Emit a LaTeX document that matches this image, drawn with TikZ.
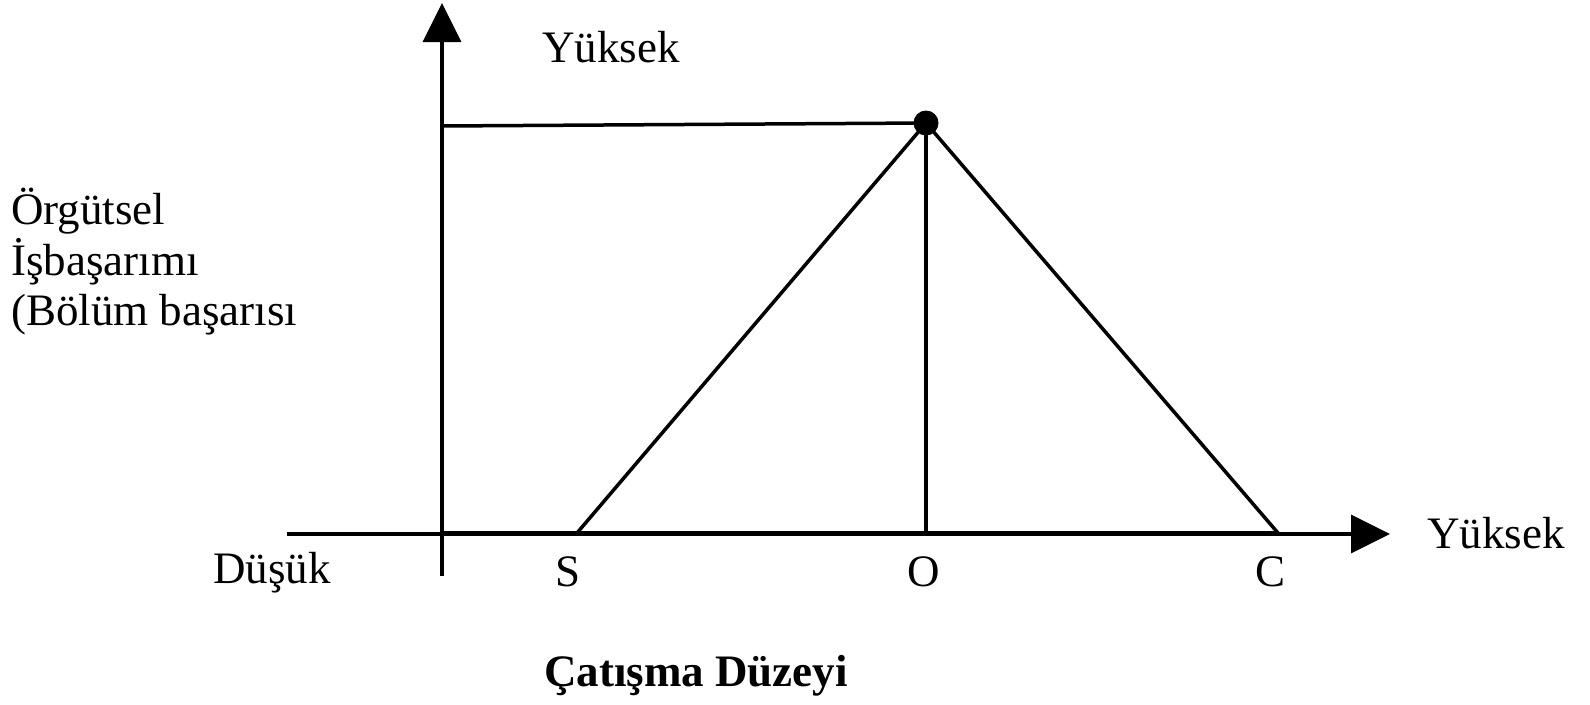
\documentclass[tikz,border=0pt]{standalone}
\usepackage{fontspec}
\setmainfont{Liberation Serif}
\usetikzlibrary{arrows.meta}
\begin{document}
\begin{tikzpicture}[x=1pt,y=-1pt,
  axis/.style={line width=3.5pt,-{Triangle[length=39pt,width=38pt]}},
  ln/.style={line width=3.5pt},
  lbl/.style={inner sep=0pt,anchor=base,font=\fontsize{45}{50}\selectfont},
  lblw/.style={inner sep=0pt,anchor=base west,font=\fontsize{45}{50}\selectfont}]
\useasboundingbox (0,0) rectangle (1590,704);
\coordinate (orig) at (442,534);
\coordinate (ytop) at (442,3);
\coordinate (ybot) at (442,576);
\coordinate (xstart) at (287,534);
\coordinate (xend) at (1390,534);
\coordinate (ymark) at (442,126);
\coordinate (peak) at (926,123);
\coordinate (S) at (577,533);
\coordinate (O) at (926,533);
\coordinate (C) at (1278,533);
\coordinate (base0) at (442,533);
% axes
\draw[axis] (ybot) -- (ytop);
\draw[axis] (xstart) -- (xend);
\draw[ln] (base0) -- (C);
% lines
\draw[ln] (ymark) -- (peak);
\draw[ln,line join=round] (S) -- (peak) -- (C);
\draw[ln] (peak) -- (O);
\fill (peak) circle (12.5pt);
% labels
\node[lblw] (ytxt) at (542,62) {Yüksek};
\node[lblw] (xtxt) at (1427,548) {Yüksek};
\node[lblw] (low) at (213,583) {Düşük};
\node[lbl] (Slbl) at (568,586) {S};
\node[lbl] (Olbl) at (924,586) {O};
\node[lbl] (Clbl) at (1270,586) {C};
\node[lblw] (l1) at (11,224) {Örgütsel};
\node[lblw] (l2) at (11,275) {İşbaşarımı};
\node[lblw] (l3) at (11,325) {(Bölüm başarısı};
\node[lblw,font=\fontsize{45}{50}\selectfont\bfseries] (title) at (544,686) {Çatışma Düzeyi};
\end{tikzpicture}
\end{document}
